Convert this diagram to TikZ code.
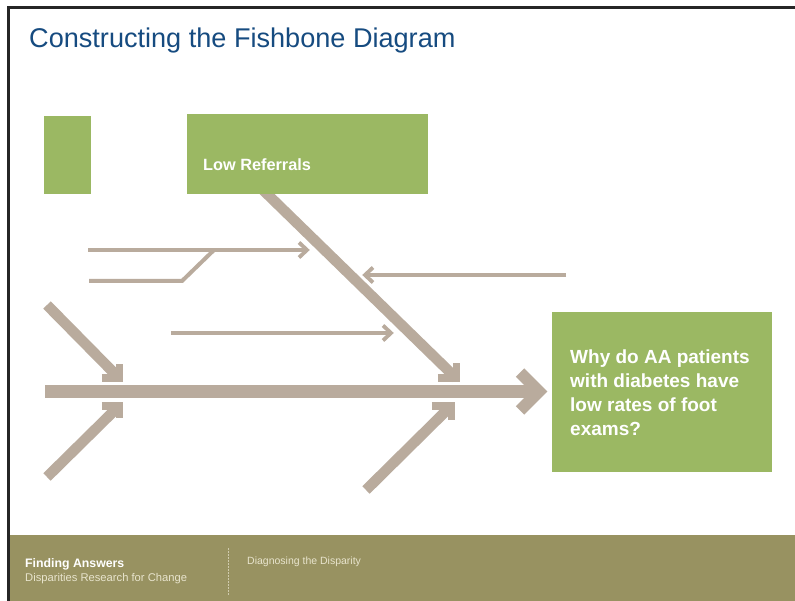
\documentclass[tikz,border=0pt]{standalone}
\usepackage{fontspec}
\setmainfont{Liberation Sans}
\usetikzlibrary{calc}
\definecolor{bone}{RGB}{185,171,157}
\definecolor{leaf}{RGB}{155,184,99}
\definecolor{footbg}{RGB}{152,146,97}
\definecolor{titleblue}{RGB}{22,75,128}
\definecolor{footlight}{RGB}{232,228,205}
\begin{document}
\begin{tikzpicture}[x=1pt,y=-1pt,
  spineline/.style={draw=bone,line width=13pt},
  spinehead/.style={draw=bone,line width=12pt,miter limit=10},
  boneline/.style={draw=bone,line width=10.5pt},
  bonehead/.style={draw=bone,line width=7.5pt,miter limit=10},
  twig/.style={draw=bone,line width=4pt},
  twighead/.style={draw=bone,line width=3.8pt,miter limit=10},
  greenbox/.style={fill=leaf,draw=none,inner sep=0pt,anchor=north west},
  boxtext/.style={text=white,font=\bfseries\fontsize{19}{23}\selectfont,inner sep=0pt,anchor=base west},
  foottext/.style={inner sep=0pt,anchor=base west}]
\useasboundingbox (0,0) rectangle (795,601);
\fill[white] (0,0) rectangle (795,601);
% footer band and frame
\fill[footbg] (10,535) rectangle (795,601);
\draw[black!85,line width=2.5pt] (8.5,601) -- (8.5,7.5) -- (795,7.5);
% title
\node[anchor=base west,inner sep=0pt,text=titleblue,font=\fontsize{27.1}{30}\selectfont] (title) at (29,48) {Constructing the Fishbone Diagram};
% coordinates
\coordinate (spS) at (45,391.5);
\coordinate (spE) at (539,391.5);
\coordinate (ulS) at (47,305);
\coordinate (ulE) at (119.25,378.25);
\coordinate (llS) at (47,477);
\coordinate (llE) at (119.25,405.75);
\coordinate (urS) at (262,189);
\coordinate (urE) at (456.25,378.25);
\coordinate (lrS) at (366,490);
\coordinate (lrE) at (451.25,405.75);
\coordinate (t1S) at (88,250);
\coordinate (t1E) at (307,250);
\coordinate (t2S) at (89,281);
\coordinate (t2K) at (182,281);
\coordinate (t2E) at (214,250);
\coordinate (t3S) at (171,333);
\coordinate (t3E) at (391,333);
\coordinate (t4S) at (566,275);
\coordinate (t4E) at (365,275);
% spine
\draw[spineline] (spS) -- (spE);
\draw[spinehead] ($(spE)+(-19,-19)$) -- (spE) -- ($(spE)+(-19,19)$);
% bones
\draw[boneline] (ulS) -- (ulE);
\draw[bonehead] ($(ulE)+(-17.5,0)$) -- (ulE) -- ($(ulE)+(0,-14.5)$);
\draw[boneline] (llS) -- (llE);
\draw[bonehead] ($(llE)+(-17.5,0)$) -- (llE) -- ($(llE)+(0,12.5)$);
\draw[boneline] (urS) -- (urE);
\draw[bonehead] ($(urE)+(-18.5,0)$) -- (urE) -- ($(urE)+(0,-15.5)$);
\draw[boneline] (lrS) -- (lrE);
\draw[bonehead] ($(lrE)+(-19.5,0)$) -- (lrE) -- ($(lrE)+(0,14.5)$);
% twigs
\draw[twig] (t1S) -- (t1E);
\draw[twighead] ($(t1E)+(-8,-7.5)$) -- (t1E) -- ($(t1E)+(-8,7.5)$);
\draw[twig] (t2S) -- (t2K) -- (t2E);
\draw[twig] (t3S) -- (t3E);
\draw[twighead] ($(t3E)+(-8,-7.5)$) -- (t3E) -- ($(t3E)+(-8,7.5)$);
\draw[twig] (t4S) -- (t4E);
\draw[twighead] ($(t4E)+(8,-7.5)$) -- (t4E) -- ($(t4E)+(8,7.5)$);
% boxes
\node[greenbox,minimum width=47pt,minimum height=78pt] (smallbox) at (44,116) {};
\node[greenbox,minimum width=241pt,minimum height=80pt] (lrbox) at (187,114) {};
\node[text=white,font=\bfseries\fontsize{16.3}{19}\selectfont,inner sep=0pt,anchor=base west] (lrtext) at (203,171) {Low Referrals};
\node[greenbox,minimum width=220pt,minimum height=160pt] (qbox) at (552,312) {};
\node[boxtext] (q1) at (570,363) {Why do AA patients};
\node[boxtext] (q2) at (570,387.3) {with diabetes have};
\node[boxtext] (q3) at (570,411.6) {low rates of foot};
\node[boxtext] (q4) at (570,435.9) {exams?};
% footer
\node[foottext,text=white,font=\bfseries\fontsize{12.3}{14}\selectfont] (fa) at (25,567) {Finding Answers};
\node[foottext,text=footlight,font=\fontsize{11.2}{13}\selectfont] (fb) at (25,581) {Disparities Research for Change};
\draw[footlight!70!footbg,line width=0.6pt,dash pattern=on 1.5pt off 1.5pt] (228,548) -- (228,596);
\node[foottext,text=footlight,font=\fontsize{10.5}{12}\selectfont] (fc) at (247,564) {Diagnosing the Disparity};
\end{tikzpicture}
\end{document}
